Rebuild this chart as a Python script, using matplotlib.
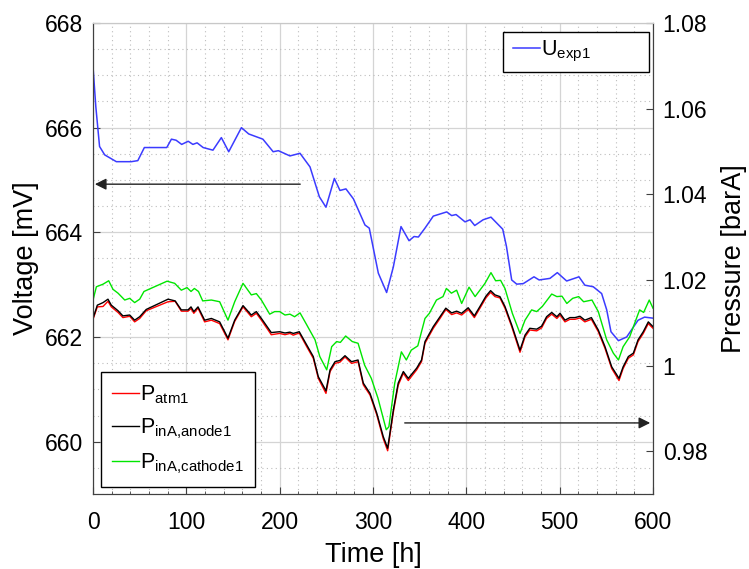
import numpy as np
import matplotlib
matplotlib.use("Agg")
import matplotlib.pyplot as plt
from matplotlib.patches import Rectangle
from matplotlib.ticker import MultipleLocator, FixedLocator, FixedFormatter

plt.rcParams['font.family'] = ['Liberation Sans', 'DejaVu Sans']
plt.rcParams['mathtext.default'] = 'regular'

# cell voltage [mV]
t_u = [0, 3, 7, 12.5, 25, 41, 48, 55, 79, 84, 89, 95, 102, 107, 111.5, 118,
       128.5, 137.5, 145.4, 159, 166.8, 182, 193, 198.6, 211, 221.8, 232.5,
       242.5, 249.6, 258.6, 264.6, 271, 279, 291.4, 296, 305.7, 314.6, 321.8,
       330, 338.6, 344, 348.6, 355.7, 364.6, 379, 384.3, 389, 398.6, 404, 409,
       418, 426.4, 439, 443, 448.6, 454, 461, 472.5, 478, 489.6, 497.5, 507.5,
       520.7, 527, 536, 545, 550.4, 555, 563, 571.8, 584, 591, 600]
u_exp1 = [667.16, 666.4, 665.64, 665.48, 665.35, 665.35, 665.37, 665.62, 665.62,
          665.78, 665.76, 665.68, 665.74, 665.68, 665.71, 665.62, 665.57, 665.81,
          665.54, 666.0, 665.88, 665.78, 665.54, 665.56, 665.46, 665.51, 665.25,
          664.68, 664.48, 665.03, 664.80, 664.83, 664.64, 664.14, 664.08, 663.22,
          662.85, 663.34, 664.11, 663.84, 663.92, 663.91, 664.08, 664.31, 664.39,
          664.32, 664.34, 664.20, 664.24, 664.13, 664.24, 664.29, 664.06, 663.73,
          663.09, 663.01, 663.02, 663.15, 663.09, 663.12, 663.23, 663.07, 663.15,
          662.99, 662.96, 662.83, 662.52, 662.10, 661.93, 662.0, 662.32, 662.38,
          662.36]

# pressures [barA]
t_p = [0, 4.6, 10.7, 16, 19.6, 26.8, 32, 39.3, 44.6, 50, 57, 80.4, 88, 94.6,
       101.8, 105, 108, 112.5, 119.6, 126.8, 135.7, 144.6, 151.8, 160.7, 169.6,
       175, 180.4, 191, 200, 205.7, 211, 214.6, 221, 229, 236, 241.4, 249.6, 254,
       259.3, 264.6, 270, 277, 284, 289.6, 296.8, 304, 311, 315.7, 321.8, 327,
       332.5, 337.8, 346.8, 352, 355.7, 364.6, 371.8, 378, 384.3, 389.6, 395,
       402, 408.6, 414.6, 421, 426, 430.7, 436, 441.4, 448.6, 457.5, 462.9, 468,
       475.4, 480.7, 486, 491.5, 497, 500.4, 505.7, 511, 516.4, 521.8, 527, 534,
       541.4, 548.6, 555.8, 563.6, 568, 573.6, 579, 584, 589.6, 595, 600]
p_atm1 = [1.0108, 1.0137, 1.0138, 1.0150, 1.0137, 1.0124, 1.0112, 1.0115, 1.0102,
          1.0110, 1.0128, 1.0149, 1.0150, 1.0127, 1.0127, 1.0133, 1.0122, 1.0134,
          1.0102, 1.0106, 1.0098, 1.0060, 1.0103, 1.0137, 1.0114, 1.0122, 1.0106,
          1.0072, 1.0075, 1.0072, 1.0075, 1.0071, 1.0076, 1.0044, 1.0017, 0.9970,
          0.9935, 0.9986, 1.0005, 1.0008, 1.0020, 1.0005, 1.0009, 0.9955, 0.9931,
          0.9885, 0.9829, 0.9801, 0.9891, 0.9954, 0.9982, 0.9965, 0.9990, 1.0009,
          1.0052, 1.0087, 1.0110, 1.0131, 1.0119, 1.0123, 1.0118, 1.0131, 1.0112,
          1.0134, 1.0158, 1.0171, 1.0161, 1.0158, 1.0134, 1.0091, 1.0031, 1.0067,
          1.0083, 1.0081, 1.0088, 1.0110, 1.0120, 1.0110, 1.0118, 1.0102, 1.0108,
          1.0108, 1.0111, 1.0102, 1.0108, 1.0079, 1.0040, 0.9993, 0.9965, 0.9993,
          1.0017, 1.0025, 1.0056, 1.0075, 1.0098, 1.0087]
p_anode1 = [1.0110, 1.0141, 1.0147, 1.0155, 1.0141, 1.0128, 1.0116, 1.0118, 1.0106,
            1.0114, 1.0131, 1.0155, 1.0151, 1.0130, 1.0130, 1.0137, 1.0126, 1.0137,
            1.0106, 1.0110, 1.0102, 1.0064, 1.0106, 1.0140, 1.0118, 1.0126, 1.0110,
            1.0077, 1.0079, 1.0076, 1.0078, 1.0075, 1.0079, 1.0048, 1.0021, 0.9974,
            0.9941, 0.9990, 1.0009, 1.0012, 1.0023, 1.0009, 1.0013, 0.9959, 0.9935,
            0.9889, 0.9834, 0.9807, 0.9896, 0.9959, 0.9986, 0.9970, 0.9994, 1.0013,
            1.0056, 1.0091, 1.0114, 1.0134, 1.0123, 1.0127, 1.0122, 1.0135, 1.0116,
            1.0138, 1.0162, 1.0175, 1.0165, 1.0161, 1.0138, 1.0095, 1.0036, 1.0071,
            1.0087, 1.0085, 1.0092, 1.0114, 1.0124, 1.0114, 1.0122, 1.0106, 1.0112,
            1.0112, 1.0115, 1.0106, 1.0112, 1.0083, 1.0044, 0.9997, 0.9970, 0.9997,
            1.0021, 1.0029, 1.0060, 1.0079, 1.0102, 1.0091]

t_c = [0, 3.6, 10.7, 16.8, 21.4, 26.8, 34, 39.3, 44.6, 50, 54.6, 79.3, 87.5,
       94.6, 100.7, 105, 108.6, 113, 117.5, 126.8, 135.7, 144.6, 151.8, 160.7,
       169.6, 175, 180.4, 189.3, 194.6, 200, 205.7, 211, 216, 221.8, 229, 237.9,
       243, 250.4, 255.7, 261, 265, 270.7, 277.8, 284, 291, 298.2, 305.3, 314.2,
       317, 323.3, 330.4, 335.7, 341, 348, 355.7, 360.4, 368, 375, 378.6, 384,
       389.6, 395, 402.9, 409.4, 420, 426.4, 431.4, 436.7, 441.4, 449.3, 457.5,
       462.9, 470, 475.4, 481.4, 491.5, 497, 502.5, 507.7, 514, 520.4, 525.7,
       534.6, 541.4, 550.4, 557.5, 563, 568, 575, 580.4, 585.7, 590, 596, 600]
p_cathode1 = [1.0153, 1.0184, 1.0190, 1.0198, 1.0178, 1.0169, 1.0153, 1.0157,
              1.0147, 1.0155, 1.0173, 1.0197, 1.0192, 1.0176, 1.0182, 1.0173,
              1.0180, 1.0173, 1.0151, 1.0153, 1.0149, 1.0106, 1.0149, 1.0192,
              1.0165, 1.0168, 1.0153, 1.0120, 1.0126, 1.0126, 1.0118, 1.0120,
              1.0114, 1.0123, 1.0095, 1.0060, 1.0021, 0.9990, 1.0044, 1.0056,
              1.0054, 1.0069, 1.0056, 1.0052, 1.0001, 0.9970, 0.9924, 0.9850,
              0.9857, 0.9959, 1.0032, 1.0013, 1.0036, 1.0046, 1.0110, 1.0122,
              1.0153, 1.0161, 1.0180, 1.0169, 1.0176, 1.0145, 1.0183, 1.0161,
              1.0192, 1.0217, 1.0198, 1.0199, 1.0180, 1.0122, 1.0075, 1.0106,
              1.0130, 1.0126, 1.0138, 1.0167, 1.0161, 1.0162, 1.0145, 1.0157,
              1.0161, 1.0149, 1.0153, 1.0126, 1.0060, 1.0029, 1.0013, 1.0044,
              1.0067, 1.0099, 1.0130, 1.0124, 1.0153, 1.0134]

p_ticks = [0.98, 1.00, 1.02, 1.04, 1.06, 1.08]
p_tick_labels = ['0.98', '1', '1.02', '1.04', '1.06', '1.08']

axis_col = '#404040'

fig = plt.figure(figsize=(7.49, 5.69), dpi=100)
ax1 = fig.add_axes([0.1242, 0.1318, 0.7476, 0.8278])
ax2 = ax1.twinx()

# voltage on the left axis
l_u, = ax1.plot(t_u, u_exp1, color='#3b3bff', lw=1.1, label=r'$U_{exp1}$')
ax1.set_xlim(0, 600)
ax1.set_ylim(659, 668)
ax1.xaxis.set_major_locator(MultipleLocator(100))
ax1.xaxis.set_minor_locator(MultipleLocator(20))
ax1.yaxis.set_major_locator(MultipleLocator(2))
ax1.yaxis.set_minor_locator(MultipleLocator(0.5))
ax1.grid(which='major', color='#d4d4d4', lw=0.9, ls='-')
ax1.grid(which='minor', color='#bdbdbd', lw=0.8, ls=(0, (1, 3)))
ax1.set_axisbelow(True)

# pressures on the right axis
ax2.plot(t_p, p_atm1, color='#ff0000', lw=1.0, label=r'$P_{atm1}$')
ax2.plot(t_p, p_anode1, color='#000000', lw=1.0, label=r'$P_{inA{,}anode1}$')
ax2.plot(t_c, p_cathode1, color='#00e600', lw=1.0, label=r'$P_{inA{,}cathode1}$')
ax2.set_ylim(0.97, 1.08)
ax2.yaxis.set_major_locator(FixedLocator(p_ticks))
ax2.yaxis.set_major_formatter(FixedFormatter(p_tick_labels))

for ax in (ax1, ax2):
    ax.tick_params(which='both', direction='in', colors=axis_col,
                   labelcolor='black', labelsize=16.5)
    ax.tick_params(which='major', length=5, pad=7)
    ax.tick_params(which='minor', length=2.5)
    for side in ('left', 'right', 'bottom'):
        ax.spines[side].set_color(axis_col)
    ax.spines['top'].set_color('#c8c8c8')
ax1.tick_params(axis='x', which='major', pad=12)
ax1.tick_params(axis='y', which='minor', length=0)
ax2.tick_params(axis='y', which='minor', length=0)

ax1.set_xlabel('Time [h]', fontsize=19.5, labelpad=6)
ax1.set_ylabel('Voltage [mV]', fontsize=19.5, labelpad=4)
ax2.set_ylabel('Pressure [barA]', fontsize=19.5, labelpad=10)

# arrows pointing to the matching axis
ax1.annotate('', xy=(2, 664.92), xytext=(222, 664.92),
             arrowprops=dict(arrowstyle='-|>', color='#222222', lw=1.0,
                             mutation_scale=17, shrinkA=0, shrinkB=0))
ax2.annotate('', xy=(597, 0.9866), xytext=(334, 0.9866),
             arrowprops=dict(arrowstyle='-|>', color='#222222', lw=1.0,
                             mutation_scale=17, shrinkA=0, shrinkB=0))

# voltage legend: wide box with the entry on its left side
ax1.add_patch(Rectangle((0.732, 0.8966), 0.261, 0.0849, transform=ax1.transAxes,
                        facecolor='white', edgecolor='black', lw=1.0, zorder=4.9))
leg1 = ax1.legend(handles=[l_u], loc='center left', bbox_to_anchor=(0.732, 0.939),
                  fontsize=15.5, frameon=False, handlelength=1.25,
                  handletextpad=0.08, borderpad=0.45, borderaxespad=0)

leg2 = ax2.legend(loc='lower left', bbox_to_anchor=(0.0143, 0.0149),
                  fontsize=15.5, fancybox=False, framealpha=1, edgecolor='black',
                  handlelength=1.25, handletextpad=0.08, borderpad=0.5,
                  labelspacing=0.5, borderaxespad=0)
leg2.get_frame().set_linewidth(1.0)

fig.savefig('out.png', dpi=100)
